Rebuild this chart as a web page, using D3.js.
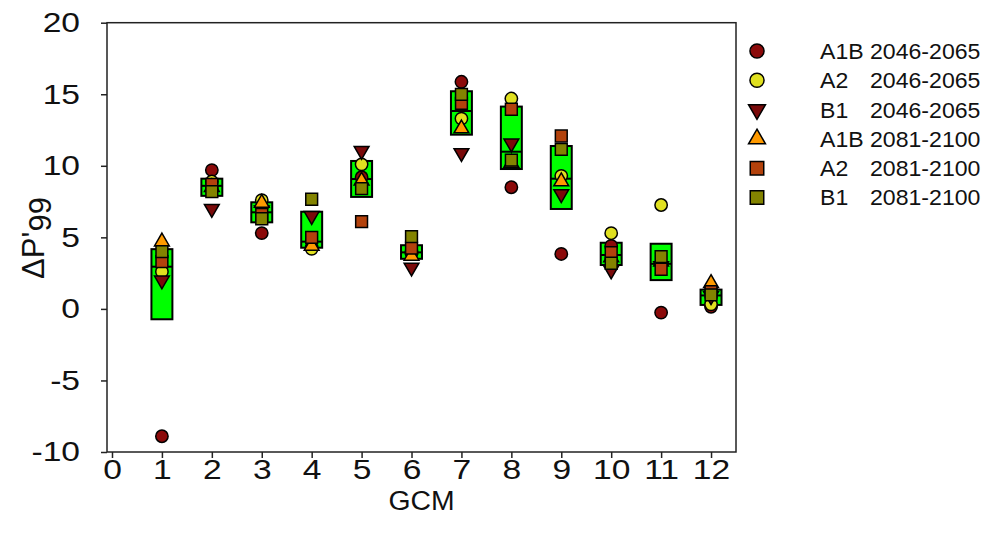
<!doctype html>
<html>
<head>
<meta charset="utf-8">
<title>GCM</title>
<style>
  body { margin: 0; background: #fff; }
  svg text { font-family: "Liberation Sans", Arial, sans-serif; fill: #111; }
</style>
</head>
<body>
<div id="here"></div>
<script src="https://d3js.org/d3.v7.min.js"></script>
<script>
var w = 987, h = 539;

// valores (GCM 1..12)
var gcms = [1, 2, 3, 4, 5, 6, 7, 8, 9, 10, 11, 12];
var a1b_2046 = [-8.9, 9.7, 5.3, 4.3, 9.2, 3.9, 15.87, 8.5, 3.84, 4.4, -0.26, 0.15];
var a2_2046  = [2.6, 8.9, 7.6, 4.2, 10.1, 4.0, 13.3, 14.7, 9.3, 5.29, 7.26, 0.32];
var b1_2046  = [2.0, 7.0, 6.9, 6.5, 11.05, 2.9, 10.9, 11.57, 8.03, 2.7, 3.0, 0.9];
var a1b_2081 = [4.7, 8.5, 7.4, 4.4, 8.95, 3.7, 12.6, 10.2, 8.9, 3.6, 3.3, 1.79];
var a2_2081  = [3.3, 8.7, 6.6, 5.0, 6.1, 4.25, 14.36, 13.95, 12.08, 3.93, 2.77, 1.2];
var b1_2081  = [4.0, 8.2, 6.3, 7.66, 8.4, 5.05, 14.99, 10.4, 11.15, 3.19, 3.65, 0.98];

var xTicks = [0, 1, 2, 3, 4, 5, 6, 7, 8, 9, 10, 11, 12];
var yTicks = [-10, -5, 0, 5, 10, 15, 20];

var series = [
  { esc: "A1B", per: "2046-2065", values: a1b_2046, shape: "circle", color: "#8b0a0a" },
  { esc: "A2",  per: "2046-2065", values: a2_2046,  shape: "circle", color: "#e0e020" },
  { esc: "B1",  per: "2046-2065", values: b1_2046,  shape: "down",   color: "#7a0a0a" },
  { esc: "A1B", per: "2081-2100", values: a1b_2081, shape: "up",     color: "#ff9a00" },
  { esc: "A2",  per: "2081-2100", values: a2_2081,  shape: "square", color: "#b3420c" },
  { esc: "B1",  per: "2081-2100", values: b1_2081,  shape: "square", color: "#838300" }
];

var mL = 107, mR = 736, mT = 22.7, mB = 452;
var sx = 1.2; // los textos del original se ven estirados a lo ancho

var x = d3.scaleLinear().domain([-0.1, 12.5]).range([mL, mR]);
var y = d3.scaleLinear().domain([-10, 20]).range([mB, mT]);

// cuartiles tipo (n+1)p
function quant(vals, p) {
  var s = vals.slice().sort(d3.ascending), n = s.length;
  var pos = p * (n + 1), i = Math.floor(pos), f = pos - i;
  if (i < 1) return s[0];
  if (i >= n) return s[n - 1];
  return s[i - 1] + f * (s[i] - s[i - 1]);
}

function symbolPath(shape, scale) {
  scale = scale || 1;
  if (shape == "circle") return d3.symbol(d3.symbolCircle, 120 * scale)();
  if (shape == "square") return d3.symbol(d3.symbolSquare, 140 * scale)();
  return d3.symbol(d3.symbolTriangle, 95 * scale)();
}

var viz = d3.select("#here").append("svg")
  .attr("width", w)
  .attr("height", h);

// cajas
var boxes = gcms.map(function(g, i) {
  var vals = series.map(function(s) { return s.values[i]; });
  return { g: g, q1: quant(vals, 0.25), med: quant(vals, 0.5), q3: quant(vals, 0.75) };
});

var bw = 0.21;
viz.selectAll("rect.box")
  .data(boxes)
  .enter()
  .append("rect")
  .attr("class", "box")
  .attr("x", function(d) { return x(d.g - bw); })
  .attr("width", function(d) { return x(d.g + bw) - x(d.g - bw); })
  .attr("y", function(d) { return y(d.q3); })
  .attr("height", function(d) { return y(d.q1) - y(d.q3); })
  .attr("fill", "#00ff00")
  .attr("stroke", "#000")
  .attr("stroke-width", 2);

viz.selectAll("line.med")
  .data(boxes)
  .enter()
  .append("line")
  .attr("class", "med")
  .attr("x1", function(d) { return x(d.g - bw); })
  .attr("x2", function(d) { return x(d.g + bw); })
  .attr("y1", function(d) { return y(d.med); })
  .attr("y2", function(d) { return y(d.med); })
  .attr("stroke", "#000")
  .attr("stroke-width", 2);

// puntos
series.forEach(function(s) {
  viz.append("g").selectAll("path")
    .data(s.values)
    .enter()
    .append("path")
    .attr("d", symbolPath(s.shape))
    .attr("transform", function(d, i) {
      return "translate(" + x(gcms[i]) + "," + y(d) + ")" + (s.shape == "down" ? " rotate(180)" : "");
    })
    .attr("fill", s.color)
    .attr("stroke", "#000")
    .attr("stroke-width", 1.5);
});

// ejes
var fmt = function(d) { return String(d); };
var gx = viz.append("g")
  .attr("transform", "translate(0," + mB + ")")
  .call(d3.axisBottom(x).tickValues(xTicks).tickFormat(fmt).tickSize(6).tickPadding(1));
var gy = viz.append("g")
  .attr("transform", "translate(" + mL + ",0)")
  .call(d3.axisLeft(y).tickValues(yTicks).tickFormat(fmt).tickSize(6));

[gx, gy].forEach(function(g) {
  g.attr("font-size", null).attr("font-family", null);
  g.select(".domain").remove();
  g.selectAll("line").attr("stroke", "#222").attr("stroke-width", 1.5);
  g.selectAll("text").style("font-size", "28px").attr("fill", "#111")
    .attr("transform", "scale(" + sx + ",1)");
});
gy.selectAll("text").attr("x", -27 / sx);

viz.append("rect")
  .attr("x", mL).attr("y", mT)
  .attr("width", mR - mL).attr("height", mB - mT)
  .attr("fill", "none").attr("stroke", "#222").attr("stroke-width", 1.5);

// titulos de ejes
viz.append("text")
  .attr("transform", "translate(" + ((mL + mR) / 2) + ",510) scale(1.05,1)")
  .attr("text-anchor", "middle")
  .style("font-size", "27px")
  .text("GCM");

var yl = viz.append("text")
  .attr("transform", "translate(44,238) rotate(-90)")
  .attr("text-anchor", "middle")
  .style("font-size", "31px");
yl.append("tspan").text("\u0394P'");
yl.append("tspan").attr("dy", 7).text("99");

// leyenda
var leg = viz.selectAll("g.leg")
  .data(series)
  .enter()
  .append("g")
  .attr("class", "leg")
  .attr("transform", function(d, i) { return "translate(0," + (51 + i * 29.3) + ")"; });

leg.append("path")
  .attr("d", function(d) { return symbolPath(d.shape, 1.3); })
  .attr("transform", function(d) { return "translate(757,0)" + (d.shape == "down" ? " rotate(180)" : ""); })
  .attr("fill", function(d) { return d.color; })
  .attr("stroke", "#000")
  .attr("stroke-width", 1.5);

leg.append("text")
  .attr("transform", "translate(820,0) scale(1.05,1)")
  .attr("dy", "0.36em")
  .style("font-size", "22px")
  .text(function(d) { return d.esc; });

leg.append("text")
  .attr("transform", "translate(870,0) scale(1.05,1)")
  .attr("dy", "0.36em")
  .style("font-size", "22px")
  .text(function(d) { return d.per; });
</script>
</body>
</html>
